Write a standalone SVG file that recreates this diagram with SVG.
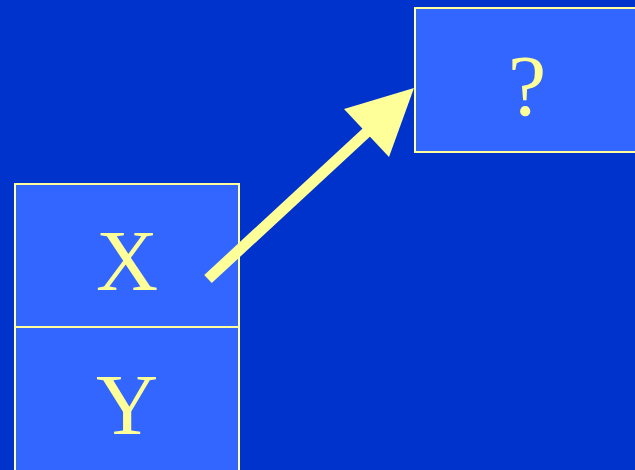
<svg xmlns="http://www.w3.org/2000/svg" width="635" height="470" viewBox="0 0 635 470">
<style>
.box{fill:#3366FF;stroke:#FFFF99;stroke-width:2}
.lbl{font-family:"Liberation Serif","Times New Roman",serif;font-size:86px;fill:#FFFF99;text-anchor:middle}
</style>
<rect x="0" y="0" width="635" height="470" fill="#0033CC"/>
<g id="nodeX"><rect class="box" x="15" y="184" width="224" height="143"/><text class="lbl" x="127" y="290">X</text></g>
<g id="nodeY"><rect class="box" x="15" y="327" width="224" height="150"/><text class="lbl" x="127" y="434">Y</text></g>
<g id="nodeQ"><rect class="box" x="415" y="8" width="230" height="144"/><text class="lbl" x="527" y="115">?</text></g>
<g id="connectors">
<line x1="208" y1="279" x2="368" y2="131" stroke="#FFFF99" stroke-width="11"/>
<polygon points="414,88 344,109 389,157" fill="#FFFF99"/>
</g>
</svg>
